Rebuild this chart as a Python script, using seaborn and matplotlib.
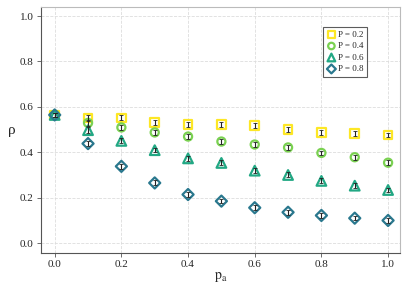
import matplotlib
matplotlib.use("Agg")
import matplotlib.pyplot as plt
import pandas as pd
import seaborn as sns

# data
pa = [0.0, 0.1, 0.2, 0.3, 0.4, 0.5, 0.6, 0.7, 0.8, 0.9, 1.0]
rho_p02 = [0.565, 0.552, 0.552, 0.533, 0.524, 0.523, 0.520, 0.502, 0.487, 0.485, 0.477]
rho_p04 = [0.565, 0.530, 0.510, 0.488, 0.470, 0.448, 0.435, 0.422, 0.398, 0.379, 0.355]
rho_p06 = [0.565, 0.498, 0.451, 0.410, 0.374, 0.354, 0.320, 0.301, 0.275, 0.254, 0.235]
rho_p08 = [0.565, 0.439, 0.339, 0.266, 0.215, 0.186, 0.157, 0.137, 0.123, 0.111, 0.101]
err_p02 = [0.010, 0.012, 0.011, 0.011, 0.011, 0.011, 0.011, 0.011, 0.011, 0.011, 0.010]
err_p04 = [0.010, 0.012, 0.010, 0.011, 0.010, 0.010, 0.010, 0.010, 0.010, 0.012, 0.010]
err_p06 = [0.010, 0.012, 0.011, 0.010, 0.011, 0.011, 0.012, 0.011, 0.011, 0.010, 0.010]
err_p08 = [0.010, 0.012, 0.011, 0.011, 0.010, 0.010, 0.010, 0.010, 0.010, 0.010, 0.010]
labels = ["P = 0.2", "P = 0.4", "P = 0.6", "P = 0.8"]

series = [rho_p02, rho_p04, rho_p06, rho_p08]
errors = [err_p02, err_p04, err_p06, err_p08]
markers = ["s", "o", "^", "D"]
colors = ["#fde725", "#7ad151", "#22a884", "#2a788e"]
sizes = [40, 34, 48, 32]

sns.set_theme(style="whitegrid")
plt.rcParams["font.family"] = ["Liberation Serif", "DejaVu Serif"]
plt.rcParams["mathtext.fontset"] = "stix"

fig, ax = plt.subplots(figsize=(4.07, 2.88), dpi=100)

for vals, errs, m, c, s, lab in zip(series, errors, markers, colors, sizes, labels):
    df = pd.DataFrame({"pa": pa, "rho": vals})
    sns.scatterplot(data=df, x="pa", y="rho", ax=ax, marker=m, s=s,
                    facecolor="none", edgecolor=c, linewidth=1.6, label=lab, zorder=3)
    ax.errorbar(pa, vals, yerr=errs, fmt="none", ecolor="#222222",
                elinewidth=0.8, capsize=1.2, capthick=0.6, zorder=4)

ax.set_xlim(-0.042, 1.036)
ax.set_ylim(-0.044, 1.04)
ax.set_xticks([0.0, 0.2, 0.4, 0.6, 0.8, 1.0])
ax.set_yticks([0.0, 0.2, 0.4, 0.6, 0.8, 1.0])
ax.grid(True, color="#dddddd", linestyle="--", linewidth=0.6)
ax.tick_params(axis="both", labelsize=8, length=3, width=0.6, color="#555555",
               direction="out", bottom=True, left=True, pad=2)
ax.set_xlabel(r"$\mathrm{p_a}$", fontsize=10, labelpad=0)
ax.set_ylabel("ρ", fontsize=11, rotation=0, labelpad=6, va="center")

for side in ["left", "bottom"]:
    ax.spines[side].set_color("#555555")
    ax.spines[side].set_linewidth(0.8)
for side in ["top", "right"]:
    ax.spines[side].set_color("#bbbbbb")
    ax.spines[side].set_linewidth(0.8)

leg = ax.legend(loc="upper right", bbox_to_anchor=(0.92, 0.937), fontsize=6.5,
                frameon=True, fancybox=False, edgecolor="#333333",
                handletextpad=0.2, borderpad=0.4, labelspacing=0.35,
                handlelength=1.0, markerscale=0.8)
leg.get_frame().set_linewidth(0.8)

fig.subplots_adjust(left=0.10, right=0.983, top=0.976, bottom=0.12)
fig.savefig("out.png", dpi=100)
plt.close(fig)
